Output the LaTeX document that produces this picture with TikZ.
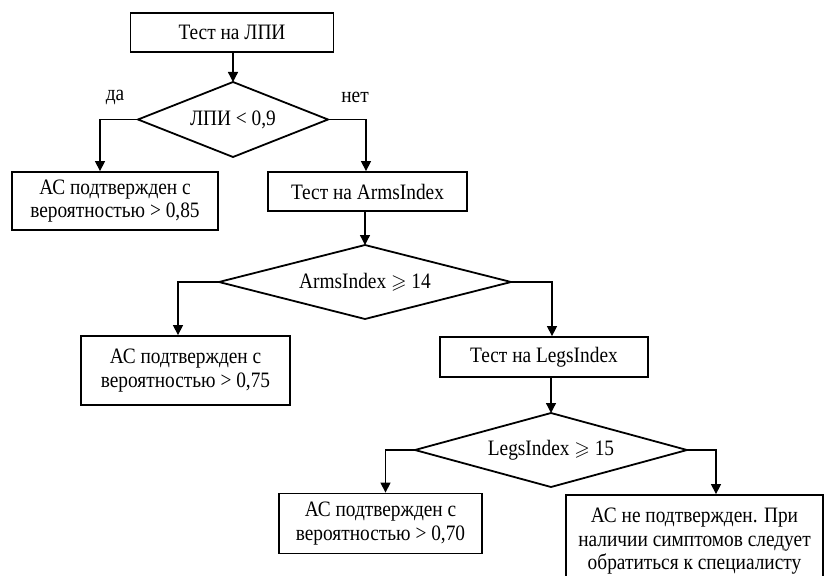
\documentclass[tikz,border=0pt]{standalone}
\usepackage{amssymb}
\usepackage{fontspec}
\setmainfont[FakeStretch=0.88]{Liberation Serif}
\usetikzlibrary{shapes.geometric,arrows.meta}
\newcommand{\gesl}{{\fontsize{20}{20}\selectfont$\geqslant$}}
\begin{document}
\begin{tikzpicture}[x=1pt,y=-1pt,
  every node/.style={font=\fontsize{22}{23.5}\selectfont},
  box/.style={draw,line width=1.8pt,inner sep=0pt,align=center},
  dia/.style={draw,diamond,line width=1.8pt,inner sep=0pt,outer sep=0pt},
  conn/.style={line width=1.3pt,-{Triangle[length=10pt,width=10pt]}},
  lbl/.style={inner sep=0pt}]
\useasboundingbox (0,0) rectangle (826,575);

\node[box,minimum width=203pt,minimum height=39pt] (b1) at (232,32.5) {Тест на ЛПИ};
\node[dia,minimum width=190pt,minimum height=75pt,label={center:ЛПИ < 0,9}] (d1) at (233,119.5) {};
\node[lbl] (yes) at (115,97) {да};
\node[lbl] (no) at (355,97) {нет};
\node[box,minimum width=206pt,minimum height=58pt] (b2) at (115,201) {АС подтвержден с\\вероятностью > 0,85};
\node[box,minimum width=199pt,minimum height=39pt] (b3) at (367.5,191.5) {Тест на ArmsIndex};
\node[dia,minimum width=292pt,minimum height=74pt,label={center:ArmsIndex \gesl{} 14}] (d2) at (365,282) {};
\node[box,minimum width=209pt,minimum height=69pt] (b4) at (185.5,370.5) {АС подтвержден с\\вероятностью > 0,75};
\node[box,minimum width=208pt,minimum height=40pt] (b5) at (544,357) {Тест на LegsIndex};
\node[dia,minimum width=272pt,minimum height=74pt,label={center:LegsIndex \gesl{} 15}] (d3) at (551,450) {};
\node[box,minimum width=203pt,minimum height=60pt] (b6) at (380.5,523.5) {АС подтвержден с\\вероятностью > 0,70};
\node[box,minimum width=257pt,minimum height=93pt] (b7) at (694.5,541.5) {АС не подтвержден. При\\наличии симптомов следует\\обратиться к специалисту};

\draw[conn] (b1.south -| d1.north) -- (d1.north);
\draw[conn] (d1.west) -| ([xshift=-15pt]b2.north);
\draw[conn] (d1.east) -| ([xshift=-1.5pt]b3.north);
\draw[conn] (b3.south -| d2.north) -- (d2.north);
\draw[conn] (d2.west) -| ([xshift=-7.5pt]b4.north);
\draw[conn] (d2.east) -| ([xshift=8pt]b5.north);
\draw[conn] (b5.south -| d3.north) -- (d3.north);
\draw[conn] (d3.west) -| ([xshift=5pt]b6.north);
\draw[conn] (d3.east) -| ([xshift=21.5pt]b7.north);
\end{tikzpicture}
\end{document}
